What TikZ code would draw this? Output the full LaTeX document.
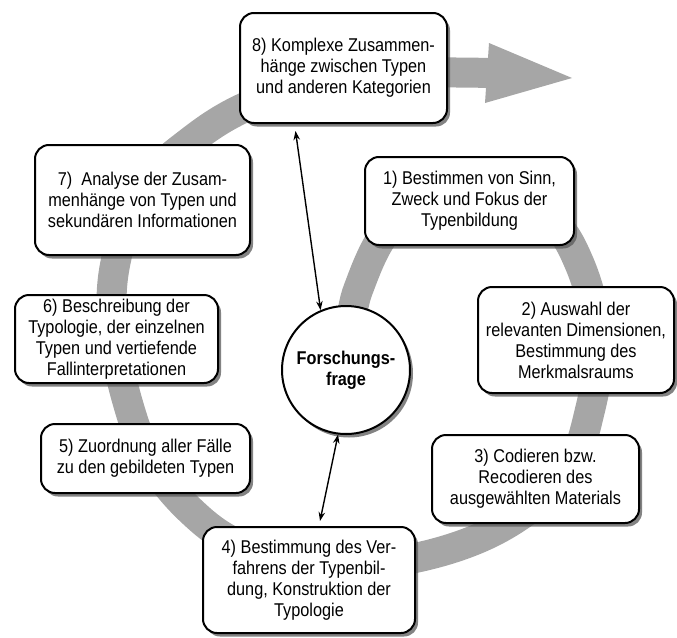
\documentclass[tikz,border=0pt]{standalone}
\usepackage{fontspec}
\setmainfont{Liberation Sans}[FakeStretch=0.88]
\usetikzlibrary{shadows,arrows.meta}
\definecolor{bandgray}{HTML}{A6A6A6}
\begin{document}
\begin{tikzpicture}[x=1pt,y=-1pt,
  stepbox/.style={draw=black, line width=2pt, rounded corners=14pt, fill=white,
    align=center, inner sep=0pt, font=\fontsize{18.5}{21}\selectfont,
    drop shadow={shadow xshift=3pt, shadow yshift=-3.5pt, fill=black!65, opacity=0.75}},
  band/.style={line width=30pt, draw=bandgray},
  link/.style={{Stealth[length=9pt,width=6.5pt]}-{Stealth[length=9pt,width=6.5pt]}, line width=1.4pt}]
\useasboundingbox (0,0) rectangle (677,637);
% spiral band
\draw[band] plot[smooth, tension=0.6] coordinates {
 (350,340) (358,290) (395,222) (470,190) (545,215) (580,265) (598,340)
 (590,410) (565,475) (500,528) (415,558) (320,566) (240,545) (190,510)
 (150,460) (127,400) (113,330) (115,265) (140,190) (192,140) (250,105)
 (330,80) (420,73) (490,73)};
\fill[bandgray] (489,43) -- (572,78) -- (485,103) -- cycle;
% boxes
\node[stepbox, minimum width=207pt, minimum height=110pt] (b8) at (343.5,68)
  {8) Komplexe Zusammen-\\hänge zwischen Typen\\und anderen Kategorien};
\node[stepbox, minimum width=215pt, minimum height=110pt] (b7) at (142.5,200)
  {7)\ \ Analyse der Zusam-\\menhänge von Typen und\\sekundären Informationen};
\node[stepbox, minimum width=209pt, minimum height=88pt] (b1) at (469.5,201)
  {1) Bestimmen von Sinn,\\Zweck und Fokus der\\Typenbildung};
\node[stepbox, minimum width=203pt, minimum height=88pt] (b6) at (116.5,339)
  {6) Beschreibung der\\Typologie, der einzelnen\\Typen und vertiefende\\Fallinterpretationen};
\node[stepbox, minimum width=196pt, minimum height=106pt] (b2) at (576,340)
  {2) Auswahl der\\relevanten Dimensionen,\\Bestimmung des\\Merkmalsraums};
\node[stepbox, minimum width=209pt, minimum height=69pt] (b5) at (145.5,458.5)
  {5) Zuordnung aller Fälle\\zu den gebildeten Typen};
\node[stepbox, minimum width=207pt, minimum height=88pt] (b3) at (535.5,479)
  {3) Codieren bzw.\\Recodieren des\\ausgewählten Materials};
\node[stepbox, minimum width=212pt, minimum height=106pt] (b4) at (309,580)
  {4) Bestimmung des Ver-\\fahrens der Typenbil-\\dung, Konstruktion der\\Typologie};
\node[stepbox, circle, rounded corners=0pt, minimum size=128pt, font=\fontsize{18.5}{21}\selectfont\bfseries] (fq) at (346,370)
  {Forschungs-\\frage};
% connectors
\draw[link] ([xshift=-48pt,yshift=-7pt]b8.south) -- (fq.113);
\draw[link] (fq.-97) -- ([xshift=11pt,yshift=5pt]b4.north);
\end{tikzpicture}
\end{document}
